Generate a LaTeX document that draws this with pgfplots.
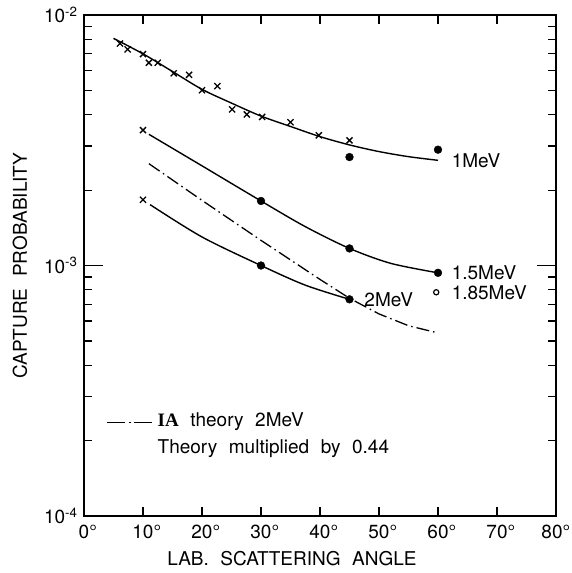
\documentclass[border=0pt]{standalone}
\usepackage{fontspec}
\setmainfont{TeX Gyre Heros}[WordSpace=2.2]
\newfontfamily\serifb{Liberation Serif}
\usepackage{pgfplots}
\pgfplotsset{compat=1.18}
\pgfplotsset{mylegimg/.style={legend image code/.code={\draw[black, line width=1.3pt, solid] (0pt,0pt) -- (18pt,0pt) (21.5pt,0pt) -- (23.5pt,0pt) (27pt,0pt) -- (45pt,0pt);}}}
\begin{document}
\fontsize{19}{22}\selectfont
\begin{tikzpicture}[font=\fontsize{19}{22}\selectfont]
\path[use as bounding box] (-84pt,-57pt) rectangle (487pt,516pt);
\begin{axis}[
  at={(0pt,0pt)}, anchor=south west,
  scale only axis, width=472pt, height=501pt,
  xmin=0, xmax=80, ymode=log, ymin=1e-4, ymax=1e-2,
  xtick={0,10,20,30,40,50,60,70,80},
  xticklabels={0\rlap{°},10\rlap{°},20\rlap{°},30\rlap{°},40\rlap{°},50\rlap{°},60\rlap{°},70\rlap{°},\kern-8pt80\rlap{°}},
  ytick={1e-4,1e-3,1e-2},
  yticklabels={10\textsuperscript{-4},10\textsuperscript{-3},10\textsuperscript{-2}},
  minor ytick={2e-4,3e-4,4e-4,5e-4,6e-4,7e-4,8e-4,9e-4,2e-3,3e-3,4e-3,5e-3,6e-3,7e-3,8e-3,9e-3},
  tick align=inside, tick pos=both, xticklabel pos=bottom, yticklabel pos=left,
  major tick length=19pt, minor tick length=8pt,
  xtick style={/pgfplots/major tick length=9pt},
  axis line style={line width=1.3pt}, every tick/.style={line width=1.2pt, black},
  xticklabel style={yshift=-2pt},
  every axis x label/.style={at={(axis description cs:0.4407,0)}, anchor=center, yshift=-43pt},
  every axis y label/.style={at={(axis description cs:0,0.5)}, xshift=-64pt, rotate=90, anchor=center},
  xlabel={LAB. SCATTERING ANGLE},
  ylabel={CAPTURE PROBABILITY},
  legend style={draw=none, fill=none, inner sep=0pt, at={(axis description cs:0.047,0.16)}, anchor=west,
    row sep=8pt, column sep=4pt, nodes={inner sep=1pt, text height=13pt, text depth=4pt}},
  legend cell align=left,
]
\addplot[black, line width=1.3pt, dash pattern=on 13pt off 4pt on 1.5pt off 4pt, mylegimg]
  coordinates {(11,2.55e-3)(20,1.82e-3)(30,1.26e-3)(40,0.88e-3)(45,0.74e-3)(50,0.641e-3)(55,0.575e-3)(60,0.538e-3)};
\addlegendentry{{\serifb\bfseries IA} theory 2MeV}
\addlegendimage{empty legend}
\addlegendentry{Theory multiplied by 0.44}
\addplot[black, line width=1.4pt, smooth] coordinates {(5,8.07e-3)(10,7.0e-3)(15,5.95e-3)(20,5.05e-3)(25,4.45e-3)(30,3.95e-3)(35,3.59e-3)(40,3.27e-3)(45,3.03e-3)(50,2.85e-3)(55,2.72e-3)(60,2.63e-3)};
\addplot[black, line width=1.4pt, smooth] coordinates {(11,3.34e-3)(20,2.5e-3)(30,1.81e-3)(37.5,1.43e-3)(45,1.17e-3)(52,1.02e-3)(60,0.935e-3)};
\addplot[black, line width=1.4pt, smooth] coordinates {(11.2,1.75e-3)(20,1.30e-3)(30,1.0e-3)(37.5,0.835e-3)(45,0.733e-3)};
\addplot[only marks, mark=x, mark size=4.3pt, mark options={line width=1.3pt}, black] coordinates {
(6.1,7.70e-3)(7.4,7.29e-3)(10.0,6.98e-3)(11.0,6.45e-3)(12.5,6.45e-3)(15.2,5.85e-3)(17.8,5.77e-3)(20.0,5.01e-3)(22.6,5.20e-3)(25.1,4.20e-3)(27.6,4.01e-3)(30.2,3.92e-3)(35.0,3.73e-3)(39.8,3.31e-3)(45.0,3.16e-3)
(10,3.47e-3)(10,1.83e-3)};
\addplot[only marks, mark=*, mark size=3.9pt, black] coordinates {(45,2.71e-3)(60,2.90e-3)(30,1.81e-3)(45,1.17e-3)(60,0.935e-3)(30,1.0e-3)(45,0.733e-3)};
\addplot[only marks, mark=o, mark size=2.6pt, mark options={line width=1.2pt}, black] coordinates {(59.7,0.782e-3)};
\node[anchor=west, inner sep=0pt] at (axis cs:62.3,2.61e-3) {1MeV};
\node[anchor=west, inner sep=0pt] at (axis cs:62.3,0.94e-3) {1.5MeV};
\node[anchor=west, inner sep=0pt] at (axis cs:62.3,0.782e-3) {1.85MeV};
\node[anchor=west, inner sep=0pt] at (axis cs:47.5,0.73e-3) {2MeV};
\end{axis}
\end{tikzpicture}
\end{document}
